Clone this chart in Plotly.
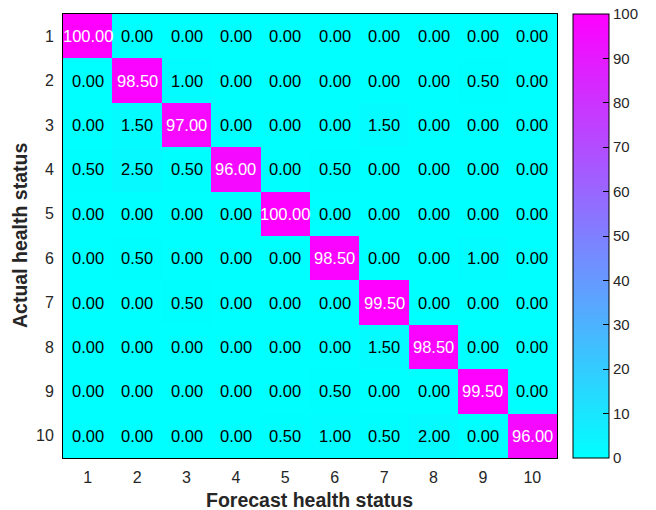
import plotly.graph_objects as go

# Confusion matrix (percent) of forecast vs actual health status
status_values = [1, 2, 3, 4, 5, 6, 7, 8, 9, 10]
status_labels = ["1", "2", "3", "4", "5", "6", "7", "8", "9", "10"]

row_1 = [100.0, 0.0, 0.0, 0.0, 0.0, 0.0, 0.0, 0.0, 0.0, 0.0]
row_2 = [0.0, 98.5, 1.0, 0.0, 0.0, 0.0, 0.0, 0.0, 0.5, 0.0]
row_3 = [0.0, 1.5, 97.0, 0.0, 0.0, 0.0, 1.5, 0.0, 0.0, 0.0]
row_4 = [0.5, 2.5, 0.5, 96.0, 0.0, 0.5, 0.0, 0.0, 0.0, 0.0]
row_5 = [0.0, 0.0, 0.0, 0.0, 100.0, 0.0, 0.0, 0.0, 0.0, 0.0]
row_6 = [0.0, 0.5, 0.0, 0.0, 0.0, 98.5, 0.0, 0.0, 1.0, 0.0]
row_7 = [0.0, 0.0, 0.5, 0.0, 0.0, 0.0, 99.5, 0.0, 0.0, 0.0]
row_8 = [0.0, 0.0, 0.0, 0.0, 0.0, 0.0, 1.5, 98.5, 0.0, 0.0]
row_9 = [0.0, 0.0, 0.0, 0.0, 0.0, 0.5, 0.0, 0.0, 99.5, 0.0]
row_10 = [0.0, 0.0, 0.0, 0.0, 0.5, 1.0, 0.5, 2.0, 0.0, 96.0]

matrix = [row_1, row_2, row_3, row_4, row_5, row_6, row_7, row_8, row_9, row_10]
colorbar_ticks = [0, 10, 20, 30, 40, 50, 60, 70, 80, 90, 100]

x_title = "Forecast health status"
y_title = "Actual health status"

FONT = "Liberation Sans, Arial, sans-serif"
TICK_COLOR = "#262626"

fig = go.Figure(
    go.Heatmap(
        z=matrix,
        x=status_values,
        y=status_values,
        zmin=0,
        zmax=100,
        colorscale=[[0, "#00FFFF"], [1, "#FF00FF"]],
        hoverongaps=False,
        colorbar=dict(
            x=1.0324,
            xanchor="left",
            y=0.5,
            yanchor="middle",
            len=1.0,
            lenmode="fraction",
            thickness=36,
            thicknessmode="pixels",
            outlinewidth=1,
            outlinecolor="#000000",
            tickvals=colorbar_ticks,
            ticks="inside",
            ticklen=6,
            tickcolor="#000000",
            tickprefix="\u00a0",
            tickfont=dict(family=FONT, size=15, color=TICK_COLOR),
            xpad=0,
            ypad=0,
        ),
    )
)

# Cell value labels: white on high values, black elsewhere
annotations = []
for r, row in enumerate(matrix):
    for c, val in enumerate(row):
        annotations.append(
            dict(
                x=status_values[c],
                y=status_values[r],
                xref="x",
                yref="y",
                text=f"{val:.2f}",
                showarrow=False,
                font=dict(family=FONT, size=16.5,
                          color="#FFFFFF" if val > 50 else "#000000"),
            )
        )

# Axis titles placed in paper coordinates
annotations.append(dict(
    x=0.498, y=-0.095, xref="paper", yref="paper",
    xanchor="center", yanchor="middle", showarrow=False,
    text=f"<b>{x_title}</b>",
    font=dict(family=FONT, size=19.5, color=TICK_COLOR),
))
annotations.append(dict(
    x=-0.087, y=0.5, xref="paper", yref="paper",
    xanchor="center", yanchor="middle", showarrow=False, textangle=-90,
    text=f"<b>{y_title}</b>",
    font=dict(family=FONT, size=19.5, color=TICK_COLOR),
))

fig.update_layout(
    width=656,
    height=510,
    margin=dict(l=63, r=99, t=14, b=52, autoexpand=False),
    paper_bgcolor="#FFFFFF",
    plot_bgcolor="#FFFFFF",
    annotations=annotations,
    font=dict(family=FONT),
)

fig.update_xaxes(
    range=[0.5, 10.5],
    tickvals=status_values,
    ticktext=status_labels,
    showline=True,
    linecolor="#000000",
    linewidth=1,
    mirror=True,
    ticks="",
    ticklabelstandoff=5,
    automargin=False,
    tickfont=dict(family=FONT, size=16, color=TICK_COLOR),
    showgrid=False,
    zeroline=False,
)
fig.update_yaxes(
    range=[10.5, 0.5],
    tickvals=status_values,
    ticktext=status_labels,
    showline=True,
    linecolor="#000000",
    linewidth=1,
    mirror=True,
    ticks="",
    ticklabelstandoff=5,
    automargin=False,
    tickfont=dict(family=FONT, size=16, color=TICK_COLOR),
    showgrid=False,
    zeroline=False,
)

fig.write_html("out.html")
